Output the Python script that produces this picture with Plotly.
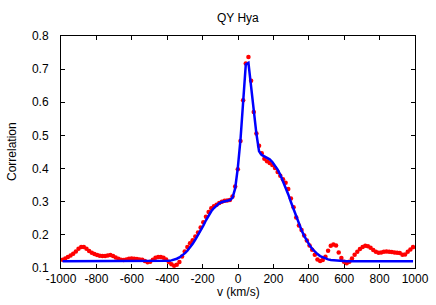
import plotly.graph_objects as go

velocity = [
    -991, -976, -961, -946, -931, -916, -901, -886, -871, -856,
    -841, -826, -811, -796, -781, -766, -751, -736, -721, -706,
    -691, -676, -661, -646, -631, -616, -601, -586, -571, -556,
    -541, -526, -511, -496, -481, -466, -451, -436, -421, -406,
    -391, -376, -361, -346, -331, -316, -301, -286, -271, -256,
    -241, -226, -211, -196, -181, -166, -151, -136, -121, -106,
    -91, -76, -61, -46, -31, -16, -1, 14, 29, 44,
    59, 74, 89, 104, 119, 134, 149, 164, 179, 194,
    209, 224, 239, 254, 269, 284, 299, 314, 329, 344,
    359, 374, 389, 404, 419, 434, 449, 464, 479, 494,
    509, 524, 539, 554, 569, 584, 599, 614, 629, 644,
    659, 674, 689, 704, 719, 734, 749, 764, 779, 794,
    809, 824, 839, 854, 869, 884, 899, 914, 929, 944,
    959, 974, 989,
]

correlation = [
    0.125, 0.129, 0.133, 0.138, 0.143, 0.150, 0.158, 0.163, 0.163, 0.158,
    0.151, 0.146, 0.142, 0.139, 0.137, 0.136, 0.136, 0.138, 0.139, 0.136,
    0.132, 0.128, 0.125, 0.124, 0.126, 0.128, 0.129, 0.128, 0.127, 0.126,
    0.125, 0.121, 0.117, 0.119, 0.125, 0.131, 0.133, 0.133, 0.131, 0.126,
    0.118, 0.111, 0.107, 0.110, 0.118, 0.135, 0.150, 0.163, 0.175, 0.184,
    0.195, 0.207, 0.222, 0.238, 0.255, 0.269, 0.280, 0.286, 0.291, 0.296,
    0.300, 0.303, 0.304, 0.305, 0.316, 0.346, 0.398, 0.483, 0.606, 0.717,
    0.737, 0.665, 0.571, 0.506, 0.469, 0.446, 0.430, 0.422, 0.417, 0.411,
    0.402, 0.390, 0.378, 0.368, 0.357, 0.338, 0.310, 0.283, 0.252, 0.228,
    0.215, 0.198, 0.183, 0.168, 0.155, 0.140, 0.126, 0.121, 0.124, 0.134,
    0.152, 0.167, 0.171, 0.168, 0.147, 0.130, 0.119, 0.114, 0.119, 0.129,
    0.140, 0.149, 0.157, 0.163, 0.167, 0.166, 0.161, 0.154, 0.149, 0.146,
    0.147, 0.149, 0.150, 0.149, 0.148, 0.147, 0.146, 0.145, 0.140, 0.141,
    0.149, 0.156, 0.163,
]

fit = [
    0.120, 0.120, 0.120, 0.120, 0.120, 0.120, 0.120, 0.120, 0.120, 0.120,
    0.120, 0.120, 0.120, 0.120, 0.120, 0.120, 0.120, 0.120, 0.120, 0.120,
    0.120, 0.120, 0.120, 0.120, 0.120, 0.120, 0.120, 0.120, 0.120, 0.120,
    0.120, 0.120, 0.120, 0.120, 0.120, 0.120, 0.120, 0.120, 0.121, 0.121,
    0.122, 0.123, 0.125, 0.128, 0.132, 0.137, 0.144, 0.152, 0.162, 0.173,
    0.186, 0.199, 0.213, 0.228, 0.244, 0.258, 0.271, 0.281, 0.289, 0.295,
    0.299, 0.302, 0.303, 0.305, 0.312, 0.340, 0.402, 0.487, 0.606, 0.714,
    0.719, 0.648, 0.566, 0.505, 0.452, 0.441, 0.437, 0.433, 0.428, 0.420,
    0.410, 0.397, 0.381, 0.363, 0.343, 0.322, 0.299, 0.276, 0.254, 0.233,
    0.214, 0.197, 0.182, 0.169, 0.158, 0.149, 0.142, 0.136, 0.132, 0.128,
    0.126, 0.124, 0.123, 0.122, 0.121, 0.120, 0.120, 0.120, 0.120, 0.120,
    0.120, 0.120, 0.120, 0.120, 0.120, 0.120, 0.120, 0.120, 0.120, 0.120,
    0.120, 0.120, 0.120, 0.120, 0.120, 0.120, 0.120, 0.120, 0.120, 0.120,
    0.120, 0.120, 0.120,
]

x_ticks = [-1000, -800, -600, -400, -200, 0, 200, 400, 600, 800, 1000]
x_tick_labels = ["-1000", "-800", "-600", "-400", "-200", "0", "200", "400", "600", "800", "1000"]
y_ticks = [0.1, 0.2, 0.3, 0.4, 0.5, 0.6, 0.7, 0.8]
y_tick_labels = ["0.1", "0.2", "0.3", "0.4", "0.5", "0.6", "0.7", "0.8"]

fig = go.Figure()
fig.add_trace(go.Scatter(
    x=velocity, y=correlation, mode="markers",
    marker=dict(color="#ff0000", size=4.5, line=dict(width=0)),
    showlegend=False,
))
fig.add_trace(go.Scatter(
    x=velocity, y=fit, mode="lines",
    line=dict(color="#0000ff", width=2.5),
    showlegend=False,
))

font = dict(family="Liberation Sans, Arial, sans-serif", size=12, color="#000000")
axis_common = dict(
    showline=True, linecolor="#000000", linewidth=1, mirror="ticks",
    ticks="inside", ticklen=4, tickcolor="#000000", tickwidth=1,
    showgrid=False, zeroline=False, tickfont=font, automargin=False,
)

fig.update_layout(
    width=436, height=305,
    margin=dict(l=61, r=21, t=36, b=37, autoexpand=False),
    paper_bgcolor="#ffffff", plot_bgcolor="#ffffff",
    font=font,
    xaxis=dict(range=[-1000, 1000], tickvals=x_ticks, ticktext=x_tick_labels,
               ticklabelstandoff=0, **axis_common),
    yaxis=dict(range=[0.1, 0.8], tickvals=y_ticks, ticktext=y_tick_labels,
               ticklabelstandoff=9, **axis_common),
    annotations=[
        dict(text="QY Hya", xref="paper", yref="paper", x=0.5, y=1,
             yshift=18, xanchor="center", yanchor="middle", showarrow=False, font=font),
        dict(text="v (km/s)", xref="paper", yref="paper", x=0.5, y=0,
             yshift=-24, xanchor="center", yanchor="middle", showarrow=False, font=font),
        dict(text="Correlation", xref="paper", yref="paper", x=0, y=0.5,
             xshift=-49, xanchor="center", yanchor="middle", textangle=-90,
             showarrow=False, font=font),
    ],
)

fig.write_html("out.html", config={"displayModeBar": False},
               post_script="document.body.style.margin='0px';")
